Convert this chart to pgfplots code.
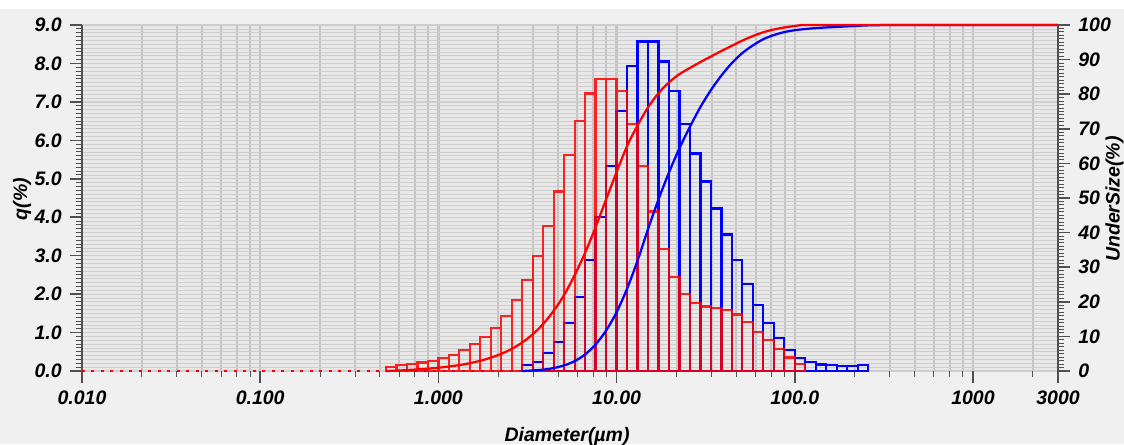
\documentclass[border=0pt]{standalone}
\usepackage{pgfplots}
\pgfplotsset{compat=1.18}
\usepackage{fontspec}
\setmainfont{Liberation Sans}

\definecolor{bgc}{RGB}{240,240,240}
\definecolor{plotbg}{RGB}{232,232,232}
\definecolor{gridc}{RGB}{206,206,206}
\definecolor{vgrid}{RGB}{196,196,196}
\definecolor{axc}{RGB}{80,80,80}

\newcommand{\lbl}{\fontsize{7.8}{9}\selectfont\bfseries\itshape}

\begin{document}
\begin{tikzpicture}[x=1pt,y=1pt]
\useasboundingbox[fill=bgc] (-32.8,-29.2) rectangle (416.8,148.4);
\fill[white] (-32.8,144.8) rectangle (416.8,148.4);

% q(%) histogram, left axis
\begin{axis}[
  at={(0,0)}, anchor=south west,
  scale only axis, width=390.4pt, height=138.4pt,
  xmode=log, xmin=0.01, xmax=3000,
  ymin=0, ymax=9,
  clip=false,
  tick align=outside,
  major tick length=4.6pt, minor tick length=2.2pt,
  tick style={axc, line width=0.6pt},
  minor tick style={axc, line width=0.4pt},
  tick label style={font=\lbl, text=black},
  label style={font=\lbl},
  /pgf/number format/assume math mode=true,
  axis x line*=bottom, axis y line*=left,
  axis line style={-},
  x axis line style={draw=none},
  y axis line style={axc, line width=1pt},
  axis background/.style={fill=plotbg},
  xtick={0.01,0.1,1,10,100,1000,3000},
  xticklabels={0.010,0.100,1.000,10.00,100.0,1000,3000},
  minor xtick={0.0217,0.0341,0.0470,0.0603,0.0739,0.0877,
               0.217,0.341,0.470,0.603,0.739,0.877,
               2.17,3.41,4.70,6.03,7.39,8.77,
               21.7,34.1,47.0,60.3,73.9,87.7,
               217,341,470,603,739,877,2170},
  ytick={0,1,...,9},
  yticklabels={0.0,1.0,2.0,3.0,4.0,5.0,6.0,7.0,8.0,9.0},
  minor y tick num=9,
  grid=both,
  major x grid style={vgrid, line width=0.9pt},
  minor x grid style={vgrid, line width=0.8pt},
  major y grid style={gridc, line width=0.5pt},
  minor y grid style={gridc, line width=0.3pt},
  xlabel={Diameter(µm)},
  ylabel={q(\%)},
  xlabel style={at={(rel axis cs:0.497,-0.188)}, anchor=center},
  ylabel style={at={(rel axis cs:-0.0615,0.497)}, anchor=center},
]
% baselines before the first bins
\addplot[blue, line width=0.8pt, dash pattern=on 1.2pt off 2.6pt] coordinates {(0.01,0) (2.9552,0)};
\addplot[red, line width=0.8pt, dash pattern=on 1.2pt off 2.6pt] coordinates {(0.01,0) (0.50802,0)};

% sample 2 (blue)
\addplot[ybar interval, draw=blue, fill=none, line width=0.9pt] coordinates {
(2.9552,0.16) (3.3839,0.24) (3.8747,0.46) (4.4367,0.76) (5.0802,1.24)
(5.8171,1.93) (6.6608,2.89) (7.6270,4.01) (8.7333,5.33) (10,6.77)
(11.450,7.94) (13.111,8.57) (15.012,8.57) (17.189,8.05) (19.682,7.28)
(22.537,6.43) (25.806,5.66) (29.548,4.93) (33.834,4.23) (38.741,3.55)
(44.360,2.88) (50.794,2.27) (58.160,1.71) (66.596,1.24) (76.254,0.85)
(87.313,0.54) (100,0.33) (114.50,0.23) (131.11,0.17) (150.12,0.15)
(171.89,0.14) (196.82,0.14) (225.37,0.16) (258.06,0)
};
% sample 1 (red)
\addplot[ybar interval, draw=red, fill=none, line width=0.9pt, draw opacity=0.85] coordinates {
(0.50802,0.11) (0.58171,0.16) (0.66608,0.19) (0.76270,0.22) (0.87333,0.27)
(1,0.34) (1.1450,0.42) (1.3111,0.55) (1.5013,0.71) (1.7191,0.88)
(1.9684,1.11) (2.2539,1.44) (2.5809,1.85) (2.9552,2.37) (3.3839,3.00)
(3.8747,3.77) (4.4367,4.67) (5.0802,5.61) (5.8171,6.50) (6.6608,7.22)
(7.6270,7.60) (8.7333,7.60) (10,7.28) (11.450,6.43) (13.111,5.33)
(15.012,4.15) (17.189,3.17) (19.682,2.45) (22.537,2.00) (25.806,1.77)
(29.548,1.68) (33.834,1.63) (38.741,1.58) (44.360,1.47) (50.794,1.28)
(58.160,1.02) (66.596,0.81) (76.254,0.58) (87.313,0.35) (100,0.18)
(114.50,0)
};
\end{axis}

% UnderSize(%) cumulative, right axis
\begin{axis}[
  at={(0,0)}, anchor=south west,
  scale only axis, width=390.4pt, height=138.4pt,
  xmode=log, xmin=0.01, xmax=3000,
  ymin=0, ymax=100,
  clip=false,
  tick align=outside,
  major tick length=4.6pt, minor tick length=2.2pt,
  tick style={axc, line width=0.6pt},
  minor tick style={axc, line width=0.4pt},
  tick label style={font=\lbl, text=black},
  label style={font=\lbl},
  /pgf/number format/assume math mode=true,
  axis x line=none,
  axis y line*=right,
  axis line style={-},
  y axis line style={axc, line width=1pt},
  ytick={0,10,...,100},
  minor y tick num=9,
  ylabel={UnderSize(\%)},
  ylabel style={at={(rel axis cs:1.058,0.497)}, anchor=center},
]
\addplot[blue, smooth, line width=0.9pt] coordinates {
(2.9552,0) (3.3839,0.16) (3.8747,0.40) (4.4367,0.86) (5.0802,1.62)
(5.8171,2.86) (6.6608,4.79) (7.6270,7.68) (8.7333,11.69) (10,17.0)
(11.450,23.8) (13.111,31.9) (15.012,41.0) (17.189,49.6) (19.682,57.4)
(22.537,64.4) (25.806,70.6) (29.548,76.3) (33.834,81.2) (38.741,85.4)
(44.360,89.0) (50.794,91.9) (58.160,94.1) (66.596,95.9) (76.254,97.1)
(87.313,97.95) (100,98.5) (114.50,98.85) (131.11,99.1) (150.12,99.3)
(171.89,99.45) (196.82,99.6) (225.37,99.75) (258.06,99.9) (400,100) (3000,100)
};
\addplot[red, smooth, line width=0.9pt] coordinates {
(0.50802,0) (0.58171,0.11) (0.66608,0.27) (0.76270,0.46) (0.87333,0.68)
(1,0.95) (1.1450,1.29) (1.3111,1.71) (1.5013,2.26) (1.7191,2.97)
(1.9684,3.85) (2.2539,4.96) (2.5809,6.40) (2.9552,8.25) (3.3839,10.6)
(3.8747,13.6) (4.4367,17.4) (5.0802,22.0) (5.8171,27.7) (6.6608,34.2)
(7.6270,41.6) (8.7333,49.6) (10,57.5) (11.450,65.0) (13.111,71.0)
(15.012,76.2) (17.189,80.3) (19.682,83.4) (22.537,85.8) (25.806,87.6)
(29.548,89.3) (33.834,90.9) (38.741,92.5) (44.360,94.0) (50.794,95.5)
(58.160,96.8) (66.596,97.9) (76.254,98.7) (87.313,99.3) (100,99.7)
(114.50,100) (200,100) (3000,100)
};
\end{axis}
\end{tikzpicture}
\end{document}
